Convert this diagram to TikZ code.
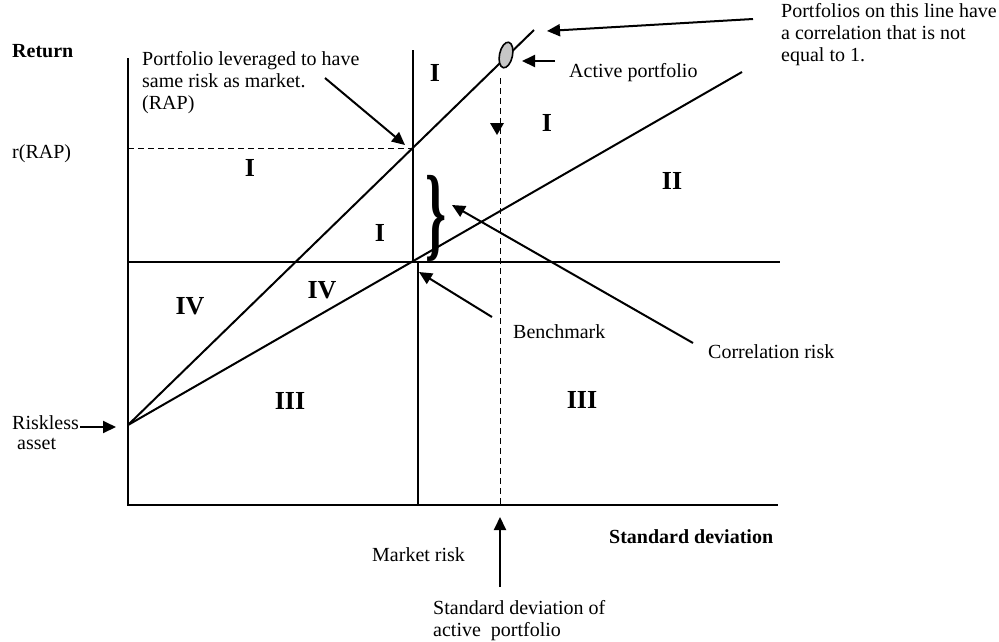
\documentclass[tikz,border=0pt]{standalone}
\usepackage{fontspec}
\setmainfont{Liberation Serif}
\usetikzlibrary{arrows.meta}
\begin{document}
\begin{tikzpicture}[x=1pt,y=-1pt,
  txt/.style={font=\fontsize{20}{22}\selectfont, inner sep=0pt, anchor=base west, align=left},
  btxt/.style={font=\fontsize{20}{22}\selectfont\bfseries, inner sep=0pt, anchor=base west},
  reg/.style={font=\fontsize{26}{28}\selectfont\bfseries, inner sep=0pt},
  axis/.style={line width=2pt},
  dsh/.style={line width=1pt, dash pattern=on 6pt off 4pt},
  arr/.style={line width=2pt, -{Triangle[length=13pt,width=12pt]}}]
\useasboundingbox (0,0) rectangle (999,641);
% key points
\coordinate (O) at (128,505);
\coordinate (Ytop) at (128,58);
\coordinate (Xend) at (778,505);
\coordinate (RF) at (128,425);
\coordinate (BM) at (413,262);
\coordinate (RAP) at (413,148);
\coordinate (Mtop) at (413,50);
\coordinate (Mb1) at (418,262);
\coordinate (Mb2) at (418,505);
\coordinate (Hl) at (128,262);
\coordinate (Hr) at (780,262);
\coordinate (CMLend) at (742,72);
\coordinate (ALend) at (534,30);
\coordinate (RAPl) at (128,148);
\coordinate (AP) at (506,55);
\coordinate (APd) at (500,78);
\coordinate (APb) at (500,505);
% axes and lines
\draw[axis] (Ytop) -- (O) -- (Xend);
\draw[axis] (Mtop) -- (BM);
\draw[axis] (Mb1) -- (Mb2);
\draw[axis] (Hl) -- (Hr);
\draw[axis] (RF) -- (CMLend);
\draw[axis] (RF) -- (ALend);
\draw[dsh] (RAPl) -- (RAP);
\draw[dsh] (APd) -- (APb);
\fill (490,123) -- (504,123) -- (497,135) -- cycle;
\draw[line width=1.6pt, fill=gray!45, rotate around={-12:(AP)}] (AP) ellipse [x radius=6.5, y radius=13];
% brace
\node[inner sep=0pt] (brace) at (436,218) {\resizebox*{21pt}{86pt}{\bfseries\}}};
% labels
\node[btxt] (ret) at (12,57) {Return};
\node[txt] (rrap) at (12,158) {r(RAP)};
\node[txt] (lev) at (142,109) {Portfolio leveraged to have\\same risk as market.\\(RAP)};
\node[txt] (corr) at (781,61) {Portfolios on this line have\\a correlation that is not\\equal to 1.};
\node[txt] (act) at (569,77) {Active portfolio};
\node[txt] (bench) at (513,338) {Benchmark};
\node[txt] (crisk) at (708,358) {Correlation risk};
\node[txt] (mrisk) at (372,561) {Market risk};
\node[btxt] (sd) at (609,543) {Standard deviation};
\node[txt] (sdap) at (433,636) {Standard deviation of\\active\ \ portfolio};
\node[txt] (rl) at (12,429) {Riskless};
\node[txt] (as) at (17,449) {asset};
% regions
\node[reg] at (435,73) {I};
\node[reg] at (547,123) {I};
\node[reg] at (250,168) {I};
\node[reg] at (380,233) {I};
\node[reg] at (672,181) {II};
\node[reg] at (190,306) {IV};
\node[reg] at (322,290) {IV};
\node[reg] at (290,401) {III};
\node[reg] at (582,400) {III};
% arrows
\coordinate (a1s) at (753,19); \coordinate (a1e) at (547,31);
\draw[arr] (a1s) -- (a1e);
\coordinate (a2s) at (555,61); \coordinate (a2e) at (522,61);
\draw[arr] (a2s) -- (a2e);
\coordinate (a3s) at (325,78); \coordinate (a3e) at (405,145);
\draw[arr] (a3s) -- (a3e);
\coordinate (a4s) at (492,317); \coordinate (a4e) at (419,272);
\draw[arr] (a4s) -- (a4e);
\coordinate (a5s) at (693,343); \coordinate (a5e) at (452,205);
\draw[arr] (a5s) -- (a5e);
\coordinate (a6s) at (80,427); \coordinate (a6e) at (116,427);
\draw[arr] (a6s) -- (a6e);
\coordinate (a7s) at (500,587); \coordinate (a7e) at (500,517);
\draw[arr] (a7s) -- (a7e);
\end{tikzpicture}
\end{document}
